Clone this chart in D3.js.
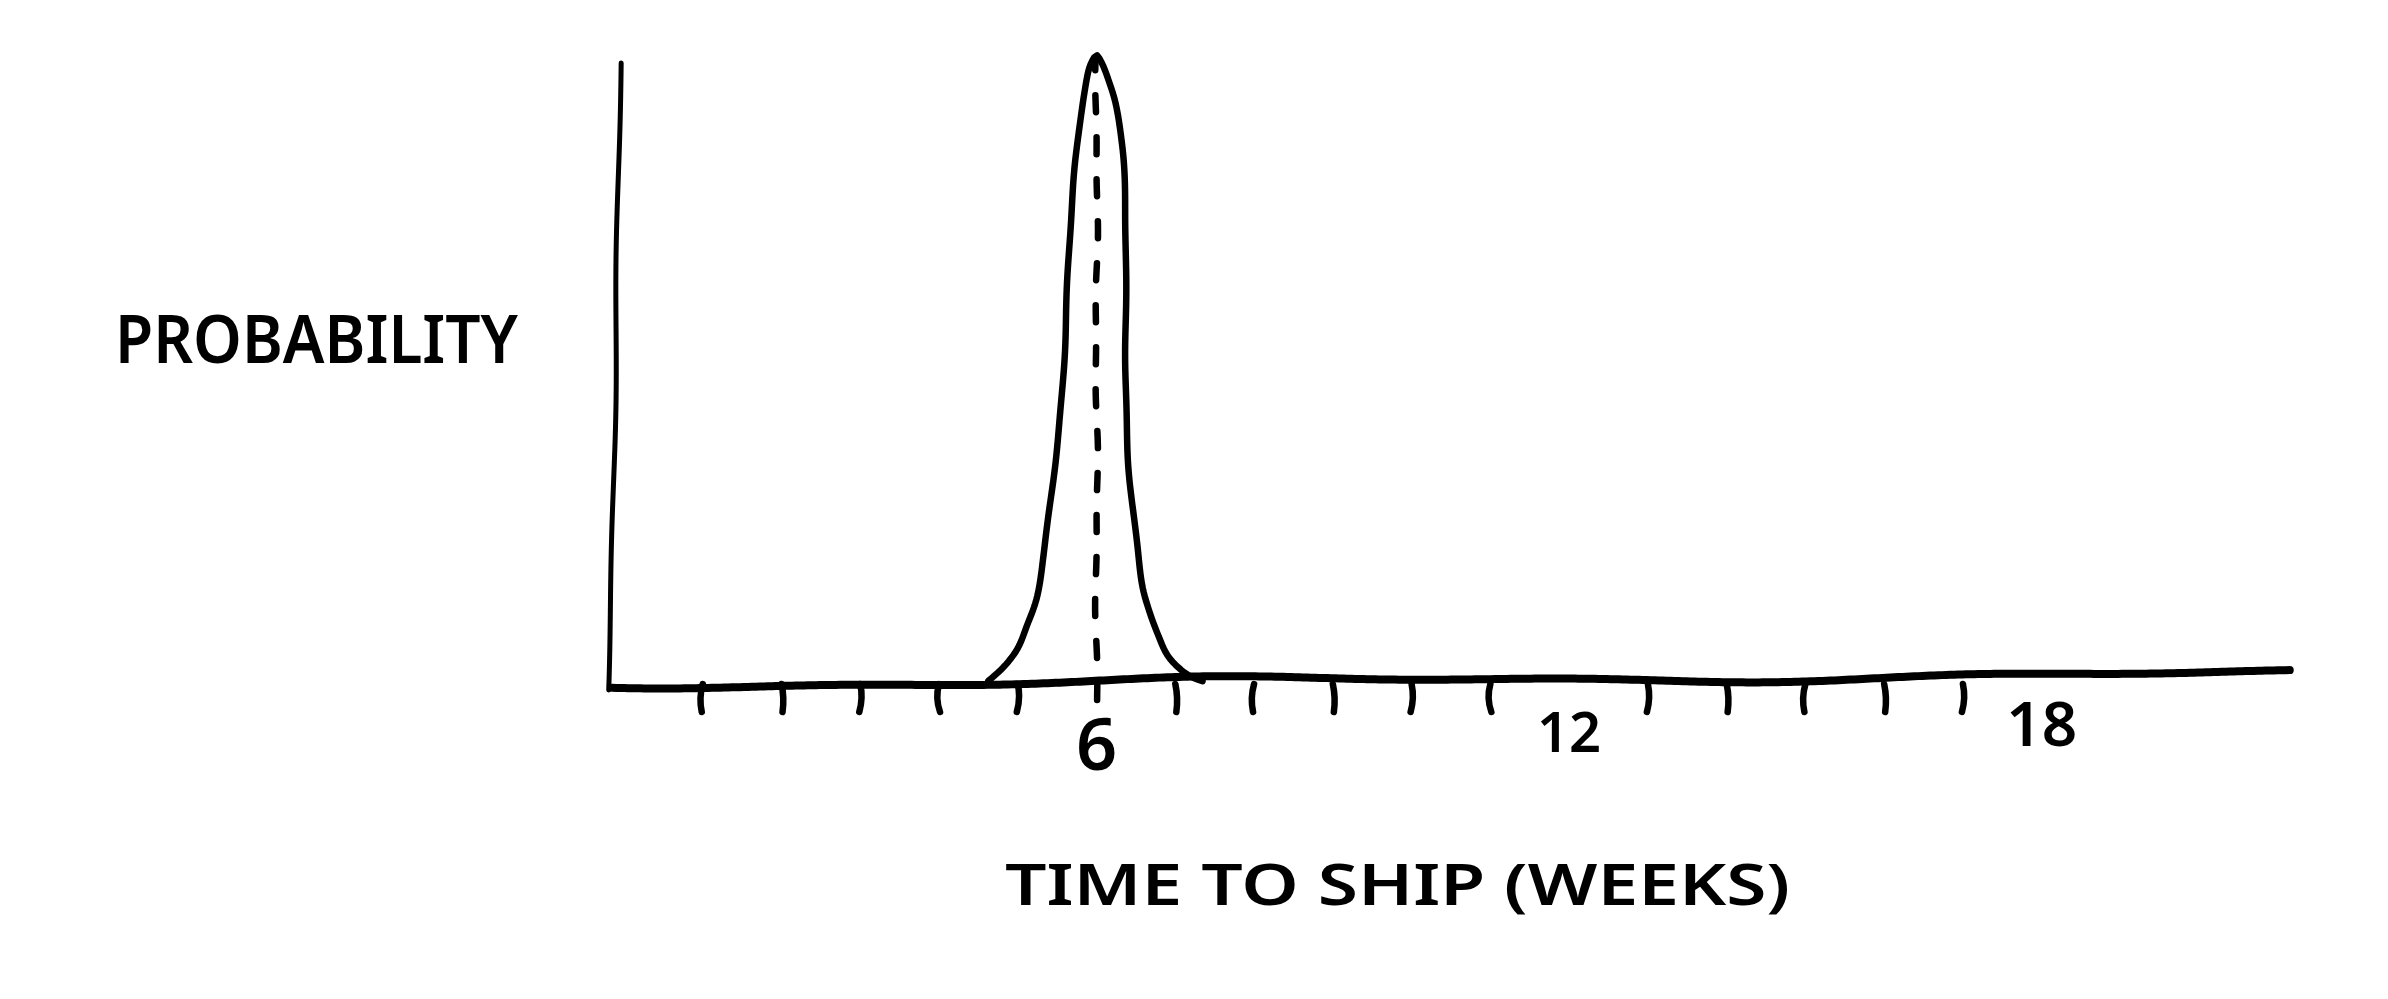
<!DOCTYPE html>
<html><head><meta charset="utf-8">
<script src="https://cdn.jsdelivr.net/npm/d3@7"></script>
<style>html,body{margin:0;padding:0;background:#fff;} svg{display:block}</style>
</head><body>
<svg id="chart" width="2388" height="999"></svg>
<script>
// ---- data ----
const weeks = [4.62, 4.8, 4.99, 5.12, 5.23, 5.33, 5.42, 5.5, 5.56, 5.61, 5.67, 5.75, 5.84, 5.92, 6.0, 6.06, 6.16, 6.26, 6.33, 6.36, 6.37, 6.38, 6.4, 6.44, 6.5, 6.58, 6.67, 6.77, 6.9, 7.05, 7.2, 7.35];
const probability = [0, 0.02, 0.05, 0.09, 0.13, 0.2, 0.28, 0.37, 0.46, 0.6, 0.72, 0.84, 0.94, 0.985, 1.0, 0.99, 0.96, 0.92, 0.85, 0.72, 0.6, 0.47, 0.36, 0.29, 0.22, 0.15, 0.11, 0.075, 0.04, 0.02, 0.007, 0];
const minorTickWeeks = [1,2,3,4,5,7,8,9,10,11,13,14,15,16,17];
const labelWeeks = [6, 12, 18];
const labelTexts = ["6", "12", "18"];
const medianWeek = 6;
const xTitle = "TIME TO SHIP (WEEKS)";
const yTitle = "PROBABILITY";
const xDomain = [0, 21];
const yDomain = [0, 1];

// ---- layout ----
const svg = d3.select("#chart");
const x = d3.scaleLinear().domain(xDomain).range([624, 624 + 21 * 78.76]);
const y = d3.scaleLinear().domain(yDomain).range([680, 55]);
const FONT = "'Noto Sans', 'DejaVu Sans', sans-serif";

// sample a smooth path and add a gentle deterministic hand-drawn wobble
const tmp = svg.append("path").attr("fill", "none");
function handDrawn(pts, curve, amp, l1, l2, seed) {
  tmp.attr("d", d3.line().curve(curve)(pts));
  const node = tmp.node();
  const L = node.getTotalLength();
  const n = Math.max(2, Math.ceil(L / 4));
  const s = d3.range(n + 1).map(i => node.getPointAtLength(L * i / n));
  return s.map((p, i) => {
    const a = s[Math.max(0, i - 1)], b = s[Math.min(n, i + 1)];
    const dx = b.x - a.x, dy = b.y - a.y, d = Math.hypot(dx, dy) || 1;
    const t = L * i / n;
    const o = amp * (0.65 * Math.sin(t / l1 + seed) + 0.35 * Math.sin(t / l2 + seed * 2.7));
    return [p.x - dy / d * o, p.y + dx / d * o];
  });
}
const lineGen = d3.line().curve(d3.curveLinear);
const ink = "#000";

// y axis
const yAxisPts = handDrawn([[x(-0.02), y(0.987)], [x(-0.12), y(0.5)], [x(-0.2), y(-0.016)]],
  d3.curveCatmullRom, 2.5, 120, 45, 1.3);
svg.append("path").attr("d", lineGen(yAxisPts))
  .attr("fill", "none").attr("stroke", ink).attr("stroke-width", 5)
  .attr("stroke-linecap", "round").attr("stroke-linejoin", "round");

// x axis
const xAxisPts = handDrawn([[x(-0.15), y(0) + 5], [x(21.15), y(0) - 6]],
  d3.curveLinear, 5, 150, 60, 0.4);
svg.append("path").attr("d", lineGen(xAxisPts))
  .attr("fill", "none").attr("stroke", ink).attr("stroke-width", 8)
  .attr("stroke-linecap", "round").attr("stroke-linejoin", "round");

// minor ticks
svg.append("g").selectAll("path").data(minorTickWeeks).join("path")
  .attr("d", (w, i) => {
    const x0 = x(w), y0 = y(0) + 4, bend = (i % 3 === 0 ? -4 : 3);
    return `M${x0},${y0} Q${x0 + bend},${y0 + 14} ${x0 + (i % 2 ? 1 : -1)},${y0 + 28}`;
  })
  .attr("fill", "none").attr("stroke", ink).attr("stroke-width", 6.5)
  .attr("stroke-linecap", "round");

// median dashed line
const medPts = handDrawn([[x(medianWeek), y(0) + 20], [x(medianWeek), y(1) + 4]],
  d3.curveLinear, 1.5, 40, 17, 2.1);
svg.append("path").attr("d", lineGen(medPts))
  .attr("fill", "none").attr("stroke", ink).attr("stroke-width", 6.5)
  .attr("stroke-linecap", "round").attr("stroke-dasharray", "17 25");

// probability curve
const curvePts = handDrawn(weeks.map((w, i) => [x(w), y(probability[i])]),
  d3.curveCatmullRom.alpha(0.5), 1.2, 50, 19, 0.7);
svg.append("path").attr("d", lineGen(curvePts))
  .attr("fill", "none").attr("stroke", ink).attr("stroke-width", 6.5)
  .attr("stroke-linecap", "round").attr("stroke-linejoin", "round");
tmp.remove();

// tick labels
svg.append("g").selectAll("text").data(labelWeeks).join("text")
  .attr("x", w => x(w))
  .attr("y", (w, i) => y(0) + [90, 72, 66][i])
  .attr("text-anchor", "middle")
  .attr("font-family", FONT).attr("font-weight", 600)
  .attr("font-size", (w, i) => [72, 56, 62][i])
  .attr("fill", ink)
  .text((w, i) => labelTexts[i]);

// axis titles
svg.append("text")
  .attr("x", 115).attr("y", 363)
  .attr("font-family", FONT).attr("font-weight", 600).attr("font-size", 66)
  .attr("textLength", 403).attr("lengthAdjust", "spacingAndGlyphs")
  .attr("fill", ink).text(yTitle);

svg.append("text")
  .attr("x", 1005).attr("y", 905)
  .attr("font-family", FONT).attr("font-weight", 600).attr("font-size", 58)
  .attr("textLength", 785).attr("lengthAdjust", "spacingAndGlyphs")
  .attr("fill", ink).text(xTitle);
</script>
</body></html>
